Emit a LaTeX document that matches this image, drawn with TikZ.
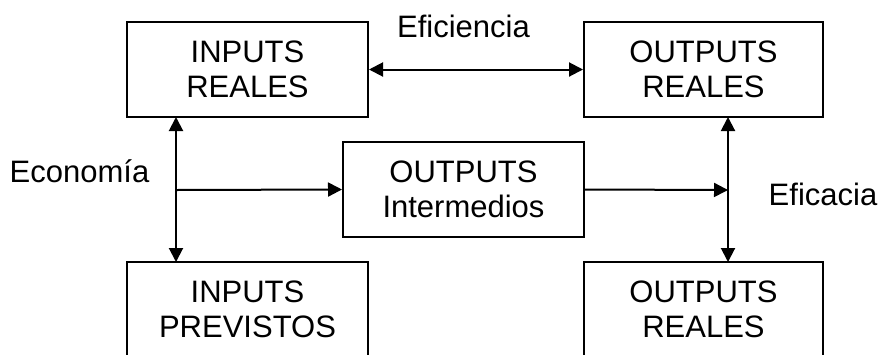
\documentclass[tikz,border=0pt]{standalone}
\usepackage{fontspec}
\setmainfont{Liberation Sans}
\usetikzlibrary{arrows.meta}
\begin{document}
\begin{tikzpicture}[x=1pt,y=-1pt,
  box/.style={draw=black, line width=2pt, minimum height=95pt, inner sep=0pt,
    align=center, font=\fontsize{31}{35.5}\selectfont},
  lbl/.style={anchor=base, inner sep=0pt, font=\fontsize{31}{35.5}\selectfont},
  conn/.style={line width=2pt, -{Triangle[length=14pt,width=14pt]}},
  dconn/.style={line width=2pt, {Triangle[length=14pt,width=14pt]}-{Triangle[length=14pt,width=14pt]}}]
\clip (0,0) rectangle (882,354);
\fill[white] (0,0) rectangle (882,354);
\node[box, minimum width=241pt] (ir) at (247.5,69.5) {INPUTS\\REALES};
\node[box, minimum width=239pt] (or) at (703.5,69.5) {OUTPUTS\\REALES};
\node[box, minimum width=241pt] (oi) at (463.5,189.5) {OUTPUTS\\Intermedios};
\node[box, minimum width=241pt] (ip) at (247.5,309.5) {INPUTS\\PREVISTOS};
\node[box, minimum width=239pt] (or2) at (703.5,309.5) {OUTPUTS\\REALES};
\node[lbl] (efi) at (463.5,37) {Eficiencia};
\node[lbl] (eco) at (79.5,182) {Economía};
\node[lbl] (efa) at (823,205) {Eficacia};
\coordinate (lt) at (176,117);
\coordinate (lb) at (176,262);
\coordinate (lm) at (176,190);
\coordinate (rt) at (728,117);
\coordinate (rb) at (728,262);
\coordinate (rm) at (728,190);
\draw[dconn] (ir.east) -- (or.west);
\draw[dconn] (lt) -- (lb);
\draw[dconn] (rt) -- (rb);
\draw[conn] (lm) -- (oi.west);
\draw[conn] (oi.east) -- (rm);
\end{tikzpicture}
\end{document}
